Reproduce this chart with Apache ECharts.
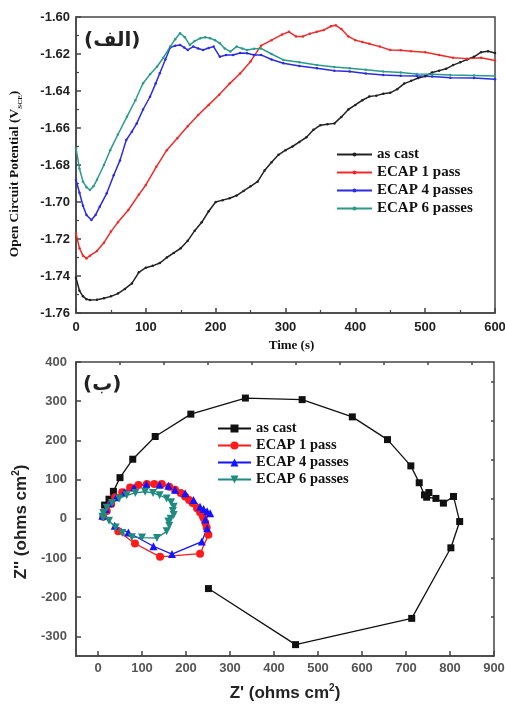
<!DOCTYPE html>
<html><head><meta charset="utf-8">
<script src="https://cdn.jsdelivr.net/npm/echarts@6/dist/echarts.min.js"></script>
<style>html,body{margin:0;padding:0;background:#fff}#c{width:505px;height:707px}</style>
</head><body><div id="c"></div>
<script>
// ---------- Top chart data (Open circuit potential vs time) ----------
const seriesNames = ['as cast', 'ECAP 1 pass', 'ECAP 4 passes', 'ECAP 6 passes'];

const asCastT = [0,5,10,15,20,30,40,50,60,70,80,90,100,110,120,130,140,150,160,170,180,190,200,210,220,230,240,250,260,270,280,290,300,310,320,330,340,350,360,370,380,390,400,410,420,430,440,450,460,470,480,490,500,510,520,530,540,550,560,570,580,590,600];
const asCastV = [-1.741,-1.748,-1.751,-1.7525,-1.753,-1.7528,-1.752,-1.751,-1.7495,-1.747,-1.744,-1.738,-1.7355,-1.7345,-1.733,-1.730,-1.7275,-1.725,-1.721,-1.7155,-1.711,-1.705,-1.700,-1.699,-1.698,-1.6965,-1.694,-1.6915,-1.689,-1.683,-1.6785,-1.6745,-1.672,-1.670,-1.6675,-1.665,-1.661,-1.6585,-1.658,-1.6575,-1.654,-1.650,-1.6475,-1.645,-1.643,-1.6425,-1.6415,-1.641,-1.639,-1.636,-1.6345,-1.633,-1.632,-1.630,-1.629,-1.628,-1.626,-1.6245,-1.623,-1.6215,-1.619,-1.6185,-1.6195];

const ecap1T = [0,5,10,15,20,30,40,50,60,75,90,100,115,130,145,160,175,190,205,220,235,250,265,280,295,305,315,325,335,345,355,365,372,380,390,400,410,420,435,450,465,480,500,520,540,560,580,600];
const ecap1V = [-1.717,-1.725,-1.729,-1.7305,-1.729,-1.7265,-1.722,-1.716,-1.711,-1.7043,-1.696,-1.6908,-1.681,-1.672,-1.6655,-1.659,-1.653,-1.6475,-1.642,-1.636,-1.6305,-1.624,-1.6155,-1.6125,-1.6095,-1.608,-1.6105,-1.6105,-1.609,-1.608,-1.607,-1.605,-1.6045,-1.6065,-1.6105,-1.6125,-1.6135,-1.6145,-1.616,-1.6178,-1.618,-1.6185,-1.619,-1.6205,-1.622,-1.6225,-1.622,-1.6235];

const ecap4T = [0,5,10,15,22,28,34,44,54,63,72,80,87,96,106,114,120,128,135,142,149,155,160,168,175,182,190,197,206,215,225,235,245,255,265,280,297,320,345,370,392,415,440,465,488,510,536,570,600];
const ecap4V = [-1.688,-1.695,-1.702,-1.707,-1.7097,-1.707,-1.7025,-1.6953,-1.6855,-1.6775,-1.6665,-1.662,-1.6575,-1.650,-1.6431,-1.636,-1.6304,-1.623,-1.6165,-1.6155,-1.6151,-1.6165,-1.6178,-1.616,-1.617,-1.6178,-1.6168,-1.616,-1.6215,-1.6205,-1.6205,-1.6195,-1.6196,-1.6205,-1.6205,-1.623,-1.625,-1.6265,-1.6277,-1.629,-1.6295,-1.6305,-1.6314,-1.6318,-1.6319,-1.6322,-1.6328,-1.633,-1.6337];

const ecap6T = [0,5,10,15,20,25,30,40,49,60,73,85,96,106,116,125,135,142,149,156,163,170,178,185,192,199,206,213,221,230,238,245,255,265,280,297,320,345,370,392,415,440,465,488,510,536,570,600];
const ecap6V = [-1.671,-1.682,-1.689,-1.692,-1.6935,-1.6915,-1.688,-1.680,-1.672,-1.6635,-1.6539,-1.645,-1.6358,-1.631,-1.6269,-1.622,-1.616,-1.612,-1.6088,-1.611,-1.6151,-1.613,-1.6115,-1.611,-1.6115,-1.6125,-1.6142,-1.617,-1.6187,-1.616,-1.617,-1.6178,-1.6172,-1.617,-1.620,-1.6232,-1.6245,-1.6259,-1.627,-1.6277,-1.6285,-1.6295,-1.630,-1.6308,-1.631,-1.6314,-1.6316,-1.6319];

// ---------- Bottom chart data (Nyquist) ----------
const asCastZr = [15,25,35,50,79,130,211,335,464,578,658,711,730,742,752,747,768,785,808,822,802,713,449,251];
const asCastZi = [35,50,70,105,152,210,267,308,304,260,202,135,92,61,67,55,52,40,57,-7,-74,-254,-321,-178];

const ecap1Zr = [12,20,30,39,55,73,92,111,128,145,162,175,188,198,207,215,225,232,238,240,244,247,251,232,141,84,46];
const ecap1Zi = [5,20,38,55,68,80,86,89,89,89,82,74,66,57,48,40,27,17,8,2,-10,-22,-41,-89,-97,-63,-32];

const ecap4Zr = [10,18,28,42,60,82,110,140,160,175,198,217,232,240,248,255,244,248,236,168,126,69,38];
const ecap4Zi = [8,25,40,55,68,80,88,87,84,74,65,48,31,25,19,14,-2,-24,-58,-90,-70,-35,-18];

const ecap6Zr = [10,12,20,32,48,65,85,107,125,140,156,166,172,170,172,165,160,162,156,134,100,77,55,40,25,12];
const ecap6Zi = [5,15,28,40,52,60,66,69,66,60,52,42,31,20,10,0,-7,-18,-32,-49,-48,-47,-36,-22,-5,3];

// tick values
const topXTicks = [0,100,200,300,400,500,600];
const botXLabels = [0,100,200,300,400,500,600,700,800,900];
const botXMinor = [-50,50,150,250,350,450,550,650,750,850];
const botYLabels = [-300,-200,-100,0,100,200,300,400];
const botYMinor = [-350,-250,-150,-50,50,150,250,350];

const pair = (a, b) => a.map((v, i) => [v, b[i]]);

const colTop = ['#222222', '#f02a2a', '#2b2be0', '#2a9a8c'];
const colBot = ['#111111', '#ff1a1a', '#1414ff', '#1f8a80'];

const tickFont = {fontFamily: 'Liberation Sans', fontWeight: 'bold', fontSize: 13};
const axisLineStyle = {color: '#444', width: 1.5};

const chart = echarts.init(document.getElementById('c'));

const topSeries = [
  pair(asCastT, asCastV), pair(ecap1T, ecap1V), pair(ecap4T, ecap4V), pair(ecap6T, ecap6V)
].map((d, i) => ({
  name: seriesNames[i], type: 'line', xAxisIndex: 0, yAxisIndex: 0, data: d,
  symbol: 'circle', symbolSize: 2.5, showSymbol: true,
  lineStyle: {color: colTop[i], width: 1.5}, itemStyle: {color: colTop[i]},
  animation: false, z: 3
}));

const botSymbols = ['rect', 'circle', 'triangle', 'triangle'];
const botRot = [0, 0, 0, 180];
const botSize = [7, 8, 8, 8];
const botSeries = [
  pair(asCastZr, asCastZi), pair(ecap1Zr, ecap1Zi), pair(ecap4Zr, ecap4Zi), pair(ecap6Zr, ecap6Zi)
].map((d, i) => ({
  name: seriesNames[i] + ' ', type: 'line', xAxisIndex: 1, yAxisIndex: 1, data: d,
  symbol: botSymbols[i], symbolRotate: botRot[i], symbolSize: botSize[i], showSymbol: true,
  lineStyle: {color: colBot[i], width: 1.3}, itemStyle: {color: colBot[i]},
  animation: false, z: 3
}));

chart.setOption({
  animation: false,
  backgroundColor: '#fff',
  grid: [
    {left: 76, top: 17, width: 419, height: 296, show: true, borderColor: '#444', borderWidth: 1.5, outerBoundsMode: 'none', containLabel: false},
    {left: 76, top: 362, width: 418, height: 294, show: true, borderColor: '#444', borderWidth: 1.5, outerBoundsMode: 'none', containLabel: false}
  ],
  legend: [
    {data: seriesNames, orient: 'vertical', left: 331, top: 142, itemWidth: 35, itemHeight: 5, itemGap: 3,
     textStyle: {fontFamily: 'Liberation Serif', fontWeight: 'bold', fontSize: 15, color: '#111'}},
    {data: seriesNames.map(s => s + ' '), orient: 'vertical', left: 212, top: 416, itemWidth: 33, itemHeight: 10, itemGap: 2,
     textStyle: {fontFamily: 'Liberation Serif', fontWeight: 'bold', fontSize: 14.5, color: '#111'}}
  ],
  xAxis: [
    {gridIndex: 0, type: 'value', min: 0, max: 600, interval: 100,
     name: 'Time (s)', nameLocation: 'middle', nameGap: 26,
     nameTextStyle: {fontFamily: 'Liberation Serif', fontWeight: 'bold', fontSize: 13, color: '#111', padding: [0, 0, 0, 12]},
     axisLine: {onZero: false, lineStyle: axisLineStyle}, axisTick: {inside: true, length: 5, lineStyle: axisLineStyle},
     minorTick: {show: true, splitNumber: 2, length: 3, lineStyle: {color: '#444', width: 1.2}},
     axisLabel: {...tickFont, color: '#222', margin: 8, customValues: topXTicks}, splitLine: {show: false}},
    {gridIndex: 1, type: 'value', min: -50, max: 900, interval: 50,
     name: "{a|Z' (ohms cm}{s|2}{a|)}", nameLocation: 'middle', nameGap: 27,
     nameTextStyle: {rich: {
       a: {fontFamily: 'Liberation Sans', fontWeight: 'bold', fontSize: 17, color: '#222', lineHeight: 20},
       s: {fontFamily: 'Liberation Sans', fontWeight: 'bold', fontSize: 10, color: '#222', verticalAlign: 'top', lineHeight: 20}}},
     axisLine: {onZero: false, lineStyle: axisLineStyle},
     axisTick: {inside: true, length: 5, lineStyle: axisLineStyle, customValues: botXLabels},
     axisLabel: {...tickFont, color: '#555', margin: 6, customValues: botXLabels}, splitLine: {show: false}},
    {gridIndex: 1, type: 'value', min: -50, max: 900, interval: 50,
     axisLine: {show: false, onZero: false},
     axisTick: {inside: true, length: 3, lineStyle: axisLineStyle, customValues: botXMinor},
     axisLabel: {show: false}, splitLine: {show: false}}
  ],
  yAxis: [
    {gridIndex: 0, type: 'value', min: -1.76, max: -1.60, interval: 0.02,
     name: '{a|Open Circuit Potential (V}{s|SCE}{a|)}', nameLocation: 'middle', nameGap: 52,
     nameTextStyle: {padding: [0, 18, 0, 0], rich: {
       a: {fontFamily: 'Liberation Serif', fontWeight: 'bold', fontSize: 13.5, color: '#111', lineHeight: 18},
       s: {fontFamily: 'Liberation Serif', fontWeight: 'bold', fontSize: 7, color: '#111', verticalAlign: 'bottom', lineHeight: 18}}},
     axisLine: {onZero: false, lineStyle: axisLineStyle}, axisTick: {inside: true, length: 5, lineStyle: axisLineStyle},
     minorTick: {show: true, splitNumber: 2, length: 3, lineStyle: {color: '#444', width: 1.2}},
     axisLabel: {...tickFont, color: '#222', margin: 6, formatter: v => v.toFixed(2)}, splitLine: {show: false}},
    {gridIndex: 1, type: 'value', min: -350, max: 400, interval: 50,
     name: "{a|Z'' (ohms cm}{s|2}{a|)}", nameLocation: 'middle', nameGap: 40,
     nameTextStyle: {padding: [0, 26, 0, 0], rich: {
       a: {fontFamily: 'Liberation Sans', fontWeight: 'bold', fontSize: 17, color: '#222', lineHeight: 20},
       s: {fontFamily: 'Liberation Sans', fontWeight: 'bold', fontSize: 10, color: '#222', verticalAlign: 'top', lineHeight: 20}}},
     axisLine: {onZero: false, lineStyle: axisLineStyle},
     axisTick: {inside: true, length: 5, lineStyle: axisLineStyle, customValues: botYLabels},
     axisLabel: {...tickFont, color: '#555', margin: 9, customValues: botYLabels}, splitLine: {show: false}},
    {gridIndex: 1, type: 'value', min: -350, max: 400, interval: 50,
     axisLine: {show: false, onZero: false},
     axisTick: {inside: true, length: 3, lineStyle: axisLineStyle, customValues: botYMinor},
     axisLabel: {show: false}, splitLine: {show: false}}
  ],
  graphic: [
    {type: 'text', left: 84, top: 31, style: {text: '(الف)', font: 'bold 20px "DejaVu Sans"', fill: '#222'}},
    {type: 'text', left: 83, top: 375, style: {text: '(ب)', font: 'bold 20px "DejaVu Sans"', fill: '#222'}}
  ],
  series: topSeries.concat(botSeries)
});
</script></body></html>
